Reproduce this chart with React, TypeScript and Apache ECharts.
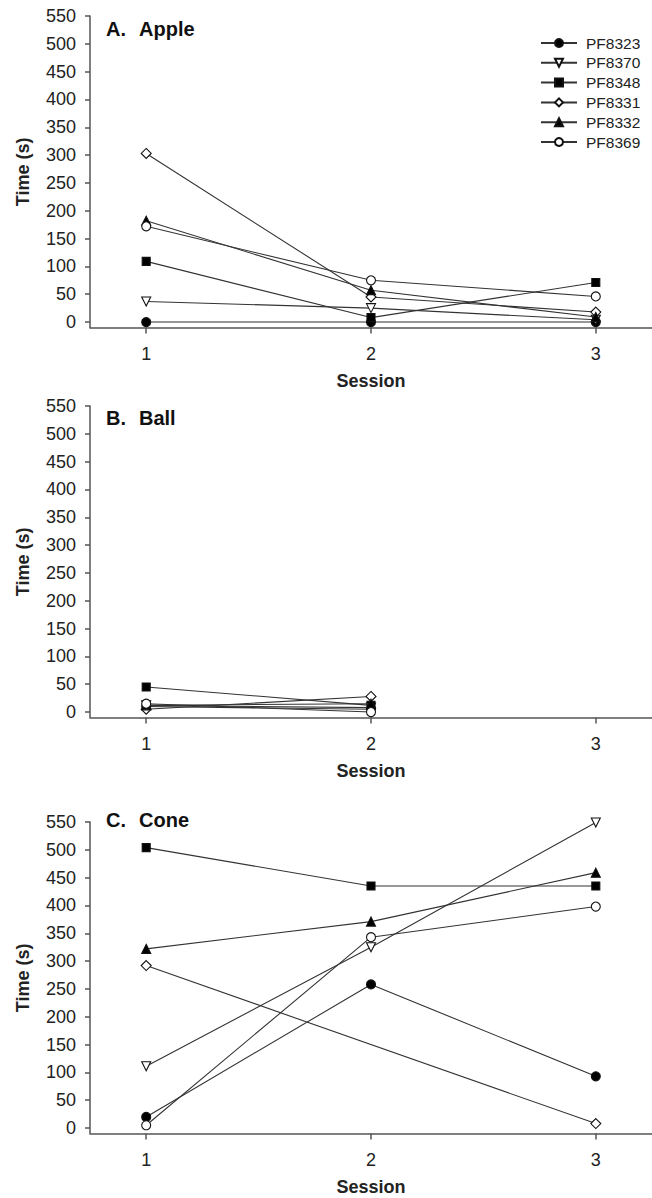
import React, { useEffect, useRef } from "react";
import * as echarts from "echarts";

const sessions = [1, 2, 3];
const yTicks = [0, 50, 100, 150, 200, 250, 300, 350, 400, 450, 500, 550];
const xTicks = [1, 2, 3];
const subjects = ["PF8323", "PF8370", "PF8348", "PF8331", "PF8332", "PF8369"];

// values per subject, per session (null = no measurement)
const apple: (number | null)[][] = [
  [0, 0, 0],
  [37, 25, 4],
  [109, 8, 71],
  [303, 45, 18],
  [182, 57, 9],
  [172, 75, 46],
];
const ball: (number | null)[][] = [
  [10, 5, null],
  [12, 8, null],
  [45, 12, null],
  [5, 28, null],
  [12, 15, null],
  [15, 0, null],
];
const cone: (number | null)[][] = [
  [20, 258, 93],
  [111, 325, 549],
  [504, 435, 435],
  [292, null, 8],
  [322, 371, 459],
  [5, 343, 398],
];

const panelLetters = ["A.", "B.", "C."];
const panelNames = ["Apple", "Ball", "Cone"];
const panelData = [apple, ball, cone];

const markerStyles = [
  { symbol: "circle", size: 9, fill: "#000", rotate: 0 },
  { symbol: "triangle", size: 9, fill: "#fff", rotate: 180 },
  { symbol: "rect", size: 8, fill: "#000", rotate: 0 },
  { symbol: "diamond", size: 10, fill: "#fff", rotate: 0 },
  { symbol: "triangle", size: 9, fill: "#000", rotate: 0 },
  { symbol: "circle", size: 9, fill: "#fff", rotate: 0 },
];

const FONT = "Liberation Sans, Arial, sans-serif";
const AXIS_COLOR = "#555";
const TEXT_COLOR = "#222";

export default function App() {
  const ref = useRef<HTMLDivElement>(null);
  useEffect(() => {
    document.body.style.margin = "0";
    if (!ref.current) return;
    const chart = echarts.init(ref.current, null, { renderer: "svg" });

    const gridTops = [16, 406, 822];
    const gridH = 311.6;
    const grids = gridTops.map((t) => ({ left: 90, top: t, width: 566.67, height: gridH }));

    const xAxes = gridTops.map((_, i) => ({
      type: "value",
      gridIndex: i,
      min: 0.75,
      max: 3.25,
      name: "Session",
      nameLocation: "middle",
      nameGap: 44,
      nameTextStyle: { fontFamily: FONT, fontSize: 18, fontWeight: "bold", color: TEXT_COLOR },
      axisLine: { show: true, onZero: false, lineStyle: { color: AXIS_COLOR, width: 1.5 } },
      axisTick: { show: true, length: 6, inside: false, customValues: xTicks, lineStyle: { color: AXIS_COLOR, width: 1.5 } },
      axisLabel: { customValues: xTicks, margin: 17, fontFamily: FONT, fontSize: 18, color: TEXT_COLOR },
      splitLine: { show: false },
    }));

    const yAxes = gridTops.map((_, i) => ({
      type: "value",
      gridIndex: i,
      min: -10,
      max: 550,
      name: "Time (s)",
      nameLocation: "middle",
      nameGap: 58,
      nameRotate: 90,
      nameTextStyle: { fontFamily: FONT, fontSize: 18, fontWeight: "bold", color: TEXT_COLOR },
      axisLine: { show: true, onZero: false, lineStyle: { color: AXIS_COLOR, width: 1.5 } },
      axisTick: { show: true, length: 5, inside: false, customValues: yTicks, lineStyle: { color: AXIS_COLOR, width: 1.5 } },
      axisLabel: { customValues: yTicks, margin: 14, fontFamily: FONT, fontSize: 18, color: TEXT_COLOR },
      splitLine: { show: false },
    }));

    const series: any[] = [];
    panelData.forEach((panel, p) => {
      panel.forEach((vals, s) => {
        const m = markerStyles[s];
        series.push({
          type: "line",
          name: subjects[s],
          xAxisIndex: p,
          yAxisIndex: p,
          data: sessions.map((x, k) => [x, vals[k]]).filter((d) => !(p === 1 && d[1] === null)),
          connectNulls: true,
          symbol: m.symbol,
          symbolSize: m.size,
          symbolRotate: m.rotate,
          showAllSymbol: true,
          lineStyle: { color: "#333", width: 1.1 },
          itemStyle: { color: m.fill, borderColor: "#111", borderWidth: 1.1 },
          emphasis: { disabled: true },
          z: 2 + s,
        });
      });
    });

    const titleY = [30, 419, 821];
    const graphics: any[] = [];
    titleY.forEach((y, i) => {
      graphics.push({
        type: "text",
        left: 106,
        top: y - 11,
        style: { text: panelLetters[i], font: `bold 20px ${FONT}`, fill: "#111" },
      });
      graphics.push({
        type: "text",
        left: 139,
        top: y - 11,
        style: { text: panelNames[i], font: `bold 20px ${FONT}`, fill: "#111" },
      });
    });

    chart.setOption({
      animation: false,
      backgroundColor: "#fff",
      grid: grids,
      xAxis: xAxes,
      yAxis: yAxes,
      legend: {
        data: subjects,
        orient: "vertical",
        left: 535,
        top: 30,
        itemWidth: 36,
        itemHeight: 10,
        itemGap: 3.8,
        selectedMode: false,
        textStyle: { fontFamily: FONT, fontSize: 15.5, color: TEXT_COLOR, lineHeight: 16, padding: [0, 0, 0, 4] },
      },
      graphic: graphics,
      series,
    });
    return () => chart.dispose();
  }, []);
  return <div ref={ref} style={{ width: 652, height: 1198 }} />;
}
